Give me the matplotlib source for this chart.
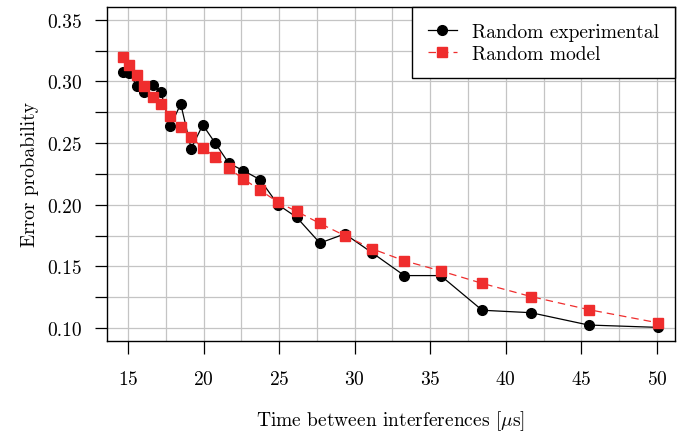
import matplotlib
matplotlib.use('Agg')
import matplotlib.pyplot as plt
from matplotlib.ticker import MultipleLocator, FormatStrFormatter

# 데이터
time_us = [14.67, 15.07, 15.58, 16.07, 16.63, 17.18, 17.8, 18.49, 19.18, 19.95,
           20.78, 21.67, 22.64, 23.74, 24.93, 26.16, 27.7, 29.35, 31.18, 33.29,
           35.69, 38.44, 41.67, 45.48, 50.07]
err_experimental = [0.3079, 0.3068, 0.2965, 0.2912, 0.2971, 0.2912, 0.2636, 0.2817,
                    0.2455, 0.2647, 0.2498, 0.2336, 0.2276, 0.2203, 0.2000, 0.1898,
                    0.1689, 0.1763, 0.1608, 0.1425, 0.1425, 0.1144, 0.1124, 0.1024,
                    0.1005]
err_model = [0.3195, 0.3135, 0.3054, 0.2965, 0.2876, 0.2817, 0.2722, 0.2634, 0.2547,
             0.2460, 0.2387, 0.2295, 0.2208, 0.2119, 0.2019, 0.1946, 0.1848, 0.1749,
             0.1641, 0.1545, 0.1463, 0.1362, 0.1255, 0.1149, 0.1042]

plt.rcParams['font.family'] = 'serif'
plt.rcParams['font.serif'] = ['cmr10', 'DejaVu Serif']
plt.rcParams['mathtext.fontset'] = 'cm'
plt.rcParams['axes.formatter.use_mathtext'] = True
plt.rcParams['font.size'] = 14

fig, ax = plt.subplots(figsize=(6.83, 4.35), dpi=100)
fig.subplots_adjust(left=0.1562, right=0.9883, top=0.981, bottom=0.2145)

ax.plot(time_us, err_experimental, color='black', linewidth=0.9, marker='o',
        markersize=7, label='Random experimental', zorder=3)
ax.plot(time_us, err_model, color='#ef2d2d', linewidth=0.9, linestyle=(0, (6, 4)),
        marker='s', markersize=6.5, label='Random model', zorder=4)

ax.set_xlim(13.59, 51.2)
ax.set_ylim(0.0897, 0.3601)
ax.xaxis.set_major_locator(MultipleLocator(5))
ax.xaxis.set_minor_locator(MultipleLocator(2.5))
ax.yaxis.set_major_locator(MultipleLocator(0.05))
ax.yaxis.set_minor_locator(MultipleLocator(0.025))
ax.yaxis.set_major_formatter(FormatStrFormatter('%.2f'))

ax.grid(True, which='both', color='#c4c4c4', linewidth=0.9)
ax.set_axisbelow(True)
ax.tick_params(axis='both', which='both', direction='out', length=9, width=0.9)
ax.tick_params(axis='x', which='major', pad=12)
ax.tick_params(axis='y', which='major', pad=9)
ax.tick_params(axis='x', which='minor', length=0)
for s in ax.spines.values():
    s.set_linewidth(1.0)

ax.set_xlabel(r'Time between interferences [$\mu$s]', labelpad=15)
ax.set_ylabel('Error probability', labelpad=6)

leg = ax.legend(loc='upper right', borderaxespad=0, fancybox=False, framealpha=1,
                edgecolor='black', handlelength=1.5, handletextpad=0.8,
                labelspacing=0.2, borderpad=0.8)
leg.get_frame().set_linewidth(1.0)

plt.savefig('out.png', dpi=100)
